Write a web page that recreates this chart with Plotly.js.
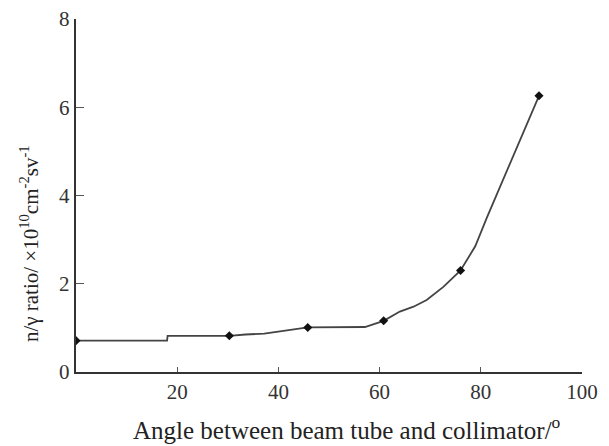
<!DOCTYPE html>
<html>
<head>
<meta charset="utf-8">
<script src="https://cdn.plot.ly/plotly-3.0.1.min.js"></script>
<style>html,body{margin:0;padding:0;background:#fff;}#chart{width:609px;height:446px;}</style>
</head>
<body>
<div id="chart"></div>
<script>
// Measured points (angle in degrees, n/gamma ratio)
var pointAngles = [0, 30.3, 45.8, 60.8, 76.0, 91.5];
var pointRatios = [0.71, 0.82, 1.01, 1.16, 2.30, 6.26];

// Hand-drawn connecting curve
var curveAngles = [0, 18.0, 18.1, 30.3, 33.5, 37.2, 41.0, 45.8, 57.1, 60.8, 64.0, 66.7, 69.3, 72.6, 76.0, 78.9, 81.2, 83.5, 85.8, 89.7, 91.5];
var curveRatios = [0.71, 0.71, 0.82, 0.82, 0.85, 0.87, 0.93, 1.01, 1.02, 1.16, 1.37, 1.48, 1.63, 1.93, 2.30, 2.85, 3.50, 4.12, 4.73, 5.79, 6.26];

var xTicks = [20, 40, 60, 80, 100];
var yTicks = [0, 2, 4, 6, 8];

var xTitle = 'Angle between beam tube and collimator/<sup>o</sup>';
var yTitle = 'n/γ ratio/ ×10<sup>10</sup>cm<sup>-2</sup>sv<sup>-1</sup>';

var fontFam = '"Liberation Serif", "DejaVu Serif", serif';

var traces = [
  {x: curveAngles, y: curveRatios, mode: 'lines', type: 'scatter',
   line: {color: '#444', width: 1.8, shape: 'linear'}, hoverinfo: 'skip', showlegend: false},
  {x: pointAngles, y: pointRatios, mode: 'markers', type: 'scatter',
   marker: {color: '#111', size: 7, symbol: 'diamond'}, showlegend: false}
];

var layout = {
  width: 609, height: 446,
  margin: {l: 76, r: 27, t: 19, b: 74},
  paper_bgcolor: '#fff', plot_bgcolor: '#fff',
  font: {family: fontFam, color: '#222', size: 20},
  xaxis: {
    range: [0, 100], tickvals: xTicks, ticktext: xTicks.map(String),
    showgrid: false, zeroline: false, showline: true, linecolor: '#333', linewidth: 2.2,
    ticks: 'inside', ticklen: 5, tickcolor: '#555', tickwidth: 1,
    tickfont: {family: fontFam, size: 21, color: '#333'}
  },
  yaxis: {
    range: [0, 8], tickvals: yTicks, ticktext: yTicks.map(String),
    showgrid: false, zeroline: false, showline: true, linecolor: '#333', linewidth: 2.2,
    ticks: 'inside', ticklen: 8, tickcolor: '#555', tickwidth: 1,
    tickfont: {family: fontFam, size: 21, color: '#333'}
  },
  annotations: [
    {text: xTitle, xref: 'paper', yref: 'paper', x: 0.535, y: -0.158, xanchor: 'center', yanchor: 'middle',
     showarrow: false, font: {family: fontFam, size: 25, color: '#222'}},
    {text: yTitle, xref: 'paper', yref: 'paper', x: -0.093, y: 0.365, xanchor: 'center', yanchor: 'middle',
     textangle: -90, showarrow: false, font: {family: fontFam, size: 21, color: '#222'}}
  ]
};

Plotly.newPlot('chart', traces, layout, {displayModeBar: false, staticPlot: true});
</script>
</body>
</html>
